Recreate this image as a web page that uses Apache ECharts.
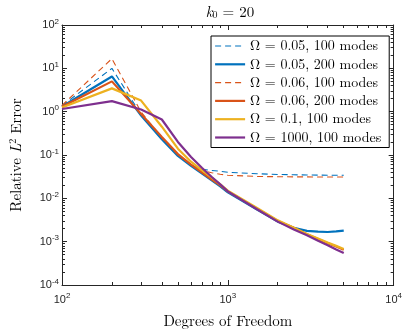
<!DOCTYPE html>
<html>
<head>
<meta charset="utf-8">
<script src="https://cdn.jsdelivr.net/npm/echarts@6/dist/echarts.min.js"></script>
<style>
html,body{margin:0;padding:0;background:#fff;}
#chart{width:405px;height:334px;}
</style>
</head>
<body>
<div id="chart"></div>
<script>
// ---- data ----
var dof = [100, 200, 300, 400, 500, 600, 700, 800, 900, 1000, 1500, 2000, 2500, 3000, 3500, 4000, 4500, 5000];
var err_005_100 = [1.38, 10.0, 0.85, 0.23, 0.097, 0.058, 0.047, 0.044, 0.042, 0.040, 0.037, 0.0355, 0.035, 0.0345, 0.0343, 0.0342, 0.0341, 0.034];
var err_005_200 = [1.32, 6.5, 0.81, 0.23, 0.095, 0.056, 0.037, 0.026, 0.0188, 0.0137, 0.0055, 0.0029, 0.0021, 0.00178, 0.0017, 0.00167, 0.00172, 0.0018];
var err_006_100 = [1.4, 16.7, 0.98, 0.25, 0.10, 0.06, 0.044, 0.039, 0.036, 0.034, 0.032, 0.0315, 0.0313, 0.0312, 0.0311, 0.031, 0.031, 0.031];
var err_006_200 = [1.3, 5.0, 0.88, 0.26, 0.105, 0.06, 0.039, 0.027, 0.02, 0.0145, 0.0058, 0.003, 0.0021, 0.00148, 0.00115, 0.00092, 0.00077, 0.00065];
var err_01_100 = [1.25, 3.45, 1.8, 0.45, 0.14, 0.07, 0.044, 0.03, 0.021, 0.015, 0.006, 0.0031, 0.0021, 0.0015, 0.00118, 0.00095, 0.0008, 0.00068];
var err_1000_100 = [1.15, 1.75, 1.12, 0.66, 0.2, 0.09, 0.05, 0.031, 0.021, 0.0145, 0.0056, 0.0029, 0.0019, 0.0014, 0.00105, 0.00083, 0.00066, 0.00055];
var seriesNames = ['Ω = 0.05, 100 modes', 'Ω = 0.05, 200 modes', 'Ω = 0.06, 100 modes', 'Ω = 0.06, 200 modes', 'Ω = 0.1, 100 modes', 'Ω = 1000, 100 modes'];
var xMinorTicks = [200, 300, 400, 500, 600, 700, 800, 900, 2000, 3000, 4000, 5000, 6000, 7000, 8000, 9000];
var yMinorTicks = [];
[1e-4, 1e-3, 1e-2, 1e-1, 1, 10].forEach(function (d) { for (var k = 2; k <= 9; k++) yMinorTicks.push(+(d * k).toPrecision(3)); });

var serif = "'Latin Modern Roman','CMU Serif','Liberation Serif',serif";
var sans = "'Liberation Sans',Arial,Helvetica,sans-serif";
var axisColor = '#262626';

function pow10Label(v) {
  var e = Math.round(Math.log(v) / Math.LN10);
  return '{b|10}{s|' + e + '}';
}
var labelRich = {
  b: { fontFamily: sans, fontSize: 11, color: axisColor },
  s: { fontFamily: sans, fontSize: 8, color: axisColor, padding: [0, 0, 7, 0] }
};

function logX(extra) {
  return Object.assign({
    type: 'log', logBase: 10, min: 100, max: 10000, gridIndex: 0,
    splitLine: { show: false }, minorTick: { show: false },
    axisLine: { show: true, lineStyle: { color: axisColor, width: 1 } },
    axisTick: { show: true, inside: true, length: 5, lineStyle: { color: axisColor } },
    axisLabel: { show: false }
  }, extra);
}
function logY(extra) {
  return Object.assign({
    type: 'log', logBase: 10, min: 1e-4, max: 100, gridIndex: 0,
    splitLine: { show: false }, minorTick: { show: false },
    axisLine: { show: true, lineStyle: { color: axisColor, width: 1 } },
    axisTick: { show: true, inside: true, length: 5, lineStyle: { color: axisColor } },
    axisLabel: { show: false }
  }, extra);
}

var colors = ['#0072BD', '#0072BD', '#D95319', '#D95319', '#EDB120', '#7E2F8E'];
var dataSets = [err_005_100, err_005_200, err_006_100, err_006_200, err_01_100, err_1000_100];
var dashed = [true, false, true, false, false, false];

var series = dataSets.map(function (vals, i) {
  return {
    name: seriesNames[i], type: 'line', xAxisIndex: 0, yAxisIndex: 0,
    symbol: 'none', smooth: false, animation: false,
    data: dof.map(function (x, j) { return [x, vals[j]]; }),
    lineStyle: { color: colors[i], width: dashed[i] ? 1.1 : 2.2, type: dashed[i] ? [6, 4] : 'solid' },
    itemStyle: { color: colors[i] }
  };
});

var legendData = seriesNames.map(function (n, i) {
  return {
    name: n,
    lineStyle: { color: colors[i], width: dashed[i] ? 1.1 : 2.2, type: dashed[i] ? [6, 4] : 'solid' }
  };
});

var chart = echarts.init(document.getElementById('chart'), null, { renderer: 'canvas' });
chart.setOption({
  backgroundColor: '#fff',
  animation: false,
  title: {
    text: '{i|k}{sub|0}{n| = 20}',
    left: 225, top: 0, textAlign: 'center',
    textStyle: {
      fontWeight: 'normal',
      rich: {
        i: { fontFamily: serif, fontStyle: 'italic', fontWeight: 'normal', fontSize: 15, color: '#000' },
        sub: { fontFamily: serif, fontWeight: 'normal', fontSize: 10, color: '#000', padding: [5, 0, 0, 0] },
        n: { fontFamily: serif, fontWeight: 'normal', fontSize: 15, color: '#000' }
      }
    }
  },
  grid: { left: 52, right: 8, top: 25, bottom: 38, containLabel: false },
  legend: {
    orient: 'vertical', left: 211, top: 36,
    backgroundColor: '#fff', borderColor: '#000', borderWidth: 1,
    padding: [3, 8, 3, 3], itemWidth: 30, itemHeight: 14, itemGap: 4.3,
    itemTextGap: 4,
    itemStyle: { opacity: 0, borderWidth: 0 },
    textStyle: { fontFamily: serif, fontSize: 14, color: '#000', lineHeight: 14 },
    data: legendData
  },
  xAxis: [
    logX({
      position: 'bottom',
      name: 'Degrees of Freedom', nameLocation: 'middle', nameGap: 29,
      nameTextStyle: { fontFamily: serif, fontSize: 15, color: '#000' },
      axisLabel: { show: true, margin: 7, formatter: pow10Label, rich: labelRich }
    }),
    logX({ position: 'top' }),
    logX({ position: 'bottom', axisLine: { show: false }, axisTick: { show: true, inside: true, length: 3, customValues: xMinorTicks, lineStyle: { color: axisColor } } }),
    logX({ position: 'top', axisLine: { show: false }, axisTick: { show: true, inside: true, length: 3, customValues: xMinorTicks, lineStyle: { color: axisColor } } })
  ],
  yAxis: [
    logY({
      position: 'left',
      name: '{n|Relative }{i|L}{s|2}{n| Error}', nameLocation: 'middle', nameGap: 37, nameRotate: 90,
      nameTextStyle: {
        rich: {
          n: { fontFamily: serif, fontSize: 15, color: '#000' },
          i: { fontFamily: serif, fontStyle: 'italic', fontSize: 15, color: '#000' },
          s: { fontFamily: serif, fontSize: 10, color: '#000', padding: [0, 0, 7, 0] }
        }
      },
      axisLabel: { show: true, margin: 3, formatter: pow10Label, rich: labelRich }
    }),
    logY({ position: 'right' }),
    logY({ position: 'left', axisLine: { show: false }, axisTick: { show: true, inside: true, length: 3, customValues: yMinorTicks, lineStyle: { color: axisColor } } }),
    logY({ position: 'right', axisLine: { show: false }, axisTick: { show: true, inside: true, length: 3, customValues: yMinorTicks, lineStyle: { color: axisColor } } })
  ],
  series: series
});
</script>
</body>
</html>
